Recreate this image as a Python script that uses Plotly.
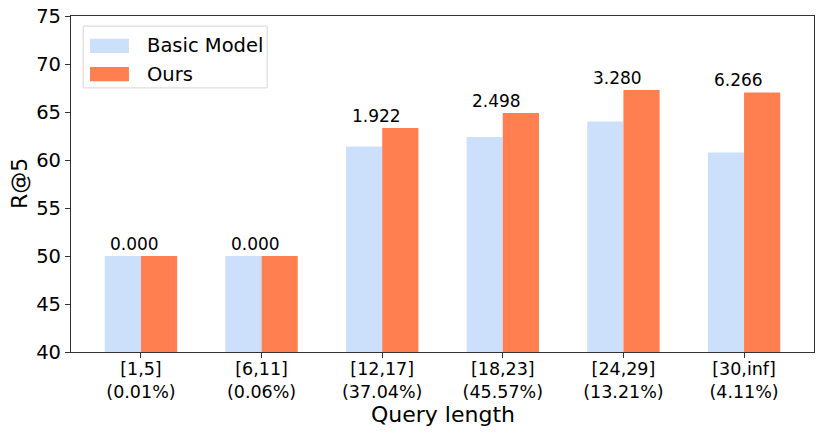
import plotly.graph_objects as go

categories = ["[1,5]", "[6,11]", "[12,17]", "[18,23]", "[24,29]", "[30,inf]"]
shares = ["(0.01%)", "(0.06%)", "(37.04%)", "(45.57%)", "(13.21%)", "(4.11%)"]
basic_values = [50.0, 50.0, 61.40, 62.40, 64.00, 60.77]
ours_values = [50.0, 50.0, 63.322, 64.898, 67.280, 67.036]
gain_labels = ["0.000", "0.000", "1.922", "2.498", "3.280", "6.266"]
series_names = ["Basic Model", "Ours"]
colors = ["#CCE0FC", "#FF7F50"]
y_ticks = [40, 45, 50, 55, 60, 65, 70, 75]
x_title = "Query length"
y_title = "R@5"

FONT = "DejaVu Sans"
x_idx = list(range(len(categories)))
tick_text = [f"{c}<br>{s}" for c, s in zip(categories, shares)]

fig = go.Figure()
fig.add_trace(go.Bar(x=x_idx, y=basic_values, name=series_names[0], offset=-0.3, width=0.3,
                     marker=dict(color=colors[0], line=dict(width=0)), base=0, showlegend=False))
fig.add_trace(go.Bar(x=x_idx, y=ours_values, name=series_names[1], offset=0.0, width=0.3,
                     marker=dict(color=colors[1], line=dict(width=0)), base=0, showlegend=False))

for i, (v, lab) in enumerate(zip(ours_values, gain_labels)):
    fig.add_annotation(x=i - 0.05, y=v, text=lab, showarrow=False, xanchor="center", yanchor="bottom",
                       yshift=0, font=dict(family=FONT, size=17, color="black"))

# custom legend (matplotlib style), paper coordinates
fig.add_shape(type="rect", xref="paper", yref="paper", x0=0.0165, x1=0.264, y0=0.786, y1=0.970,
              line=dict(color="#D6D6D6", width=1), fillcolor="rgba(255,255,255,0.8)", layer="above")
for k, name in enumerate(series_names):
    ytop = [0.932, 0.848][k]
    fig.add_shape(type="rect", xref="paper", yref="paper", x0=0.0256, x1=0.078, y0=ytop - 0.042, y1=ytop,
                  line=dict(width=0), fillcolor=colors[k], layer="above")
    fig.add_annotation(xref="paper", yref="paper", x=0.099, y=ytop - 0.021, text=name, showarrow=False,
                       xanchor="left", yanchor="middle", font=dict(family=FONT, size=19.5, color="black"))

# axis titles
fig.add_annotation(xref="paper", yref="paper", x=0.5, y=0, yshift=-62, text=x_title, showarrow=False,
                   xanchor="center", yanchor="middle", font=dict(family=FONT, size=22, color="black"))
fig.add_annotation(xref="paper", yref="paper", x=0, y=0.5, xshift=-52, text=y_title, showarrow=False,
                   textangle=-90, xanchor="center", yanchor="middle",
                   font=dict(family=FONT, size=22, color="black"))

fig.update_layout(
    width=823, height=435,
    margin=dict(l=71, r=9, t=16, b=83),
    paper_bgcolor="white", plot_bgcolor="white",
    barmode="overlay",
    font=dict(family=FONT, color="black"),
)
fig.update_xaxes(range=[-0.58, 5.58], tickvals=x_idx, ticktext=tick_text, automargin=False,
                 tickfont=dict(family=FONT, size=17.5, color="black"), ticklabelstandoff=-4,
                 showline=True, linecolor="#333333", linewidth=1.2, mirror=True,
                 ticks="outside", ticklen=5, tickcolor="#333333", showgrid=False, zeroline=False)
fig.update_yaxes(range=[40, 75], tickvals=y_ticks, automargin=False,
                 tickfont=dict(family=FONT, size=19.5, color="black"),
                 showline=True, linecolor="#333333", linewidth=1.2, mirror=True,
                 ticks="outside", ticklen=5, tickcolor="#333333", showgrid=False, zeroline=False)

fig.write_html("out.html", config={"displayModeBar": False},
               post_script="document.body.style.margin='0px';document.body.style.overflow='hidden';")
